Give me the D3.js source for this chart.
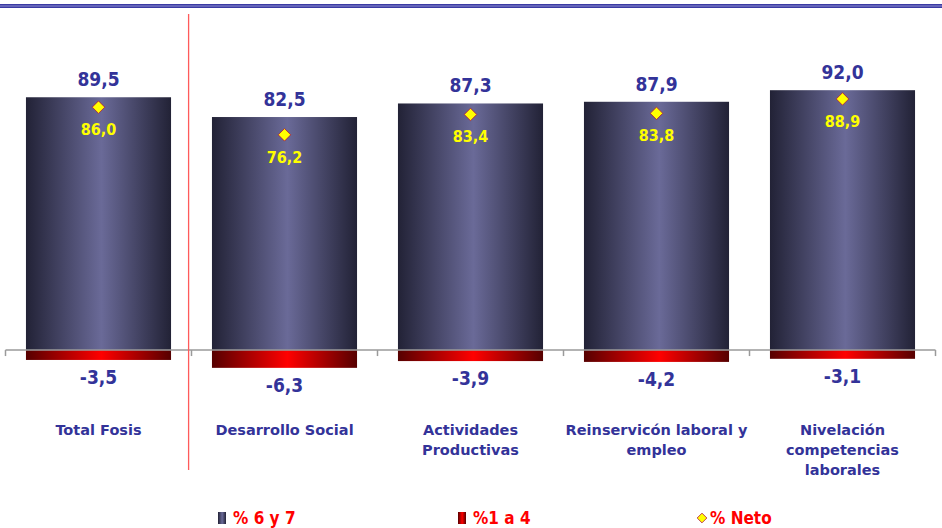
<!DOCTYPE html>
<html>
<head>
<meta charset="utf-8">
<script src="https://cdn.jsdelivr.net/npm/d3@7"></script>
<style>
  body { margin: 0; background: #fff; }
  svg { display: block; }
  .val { font-family: "DejaVu Sans Condensed", "DejaVu Sans", sans-serif; font-weight: bold; }
  .cat { font-family: "DejaVu Sans", sans-serif; font-weight: bold; }
</style>
</head>
<body>
<svg id="chart" width="942" height="528"></svg>
<script>
// Chart data
const categories = ["Total Fosis", "Desarrollo Social", "Actividades Productivas", "Reinservicón laboral y empleo", "Nivelación competencias laborales"];
const categoryLines = [["Total Fosis"], ["Desarrollo Social"], ["Actividades", "Productivas"], ["Reinservicón laboral y", "empleo"], ["Nivelación", "competencias", "laborales"]];
const pct67 = [89.5, 82.5, 87.3, 87.9, 92.0];
const pct14 = [-3.5, -6.3, -3.9, -4.2, -3.1];
const pctNeto = [86.0, 76.2, 83.4, 83.8, 88.9];
const legendLabels = ["% 6 y 7", "%1 a 4", "% Neto"];

// Spanish style numbers with a plain hyphen for negatives
const locale = d3.formatLocale({ decimal: ",", thousands: ".", grouping: [3], currency: ["", ""], minus: "-" });
const fmt = locale.format(".1f");

const svg = d3.select("#chart");

// Gradients for the bars
const defs = svg.append("defs");
function hGradient(id, edge, mid) {
  const g = defs.append("linearGradient").attr("id", id)
    .attr("x1", "0%").attr("x2", "100%").attr("y1", "0%").attr("y2", "0%");
  g.append("stop").attr("offset", "0%").attr("stop-color", edge);
  g.append("stop").attr("offset", "52%").attr("stop-color", mid);
  g.append("stop").attr("offset", "100%").attr("stop-color", edge);
}
hGradient("gBlue", "#222236", "#6a6a98");
hGradient("gRed", "#560000", "#ff0000");

// Scales
const x = d3.scaleBand()
  .domain(categories)
  .range([5.5, 935.5])
  .paddingInner(0.22)
  .paddingOuter(0.11);

const y = d3.scaleLinear()
  .domain([-10, 100])
  .range([378.3, 67.6]);

// Header rule
svg.append("rect").attr("x", 0).attr("y", 4).attr("width", 942).attr("height", 4).attr("fill", "#3b3ba3");
svg.append("line").attr("x1", 0).attr("x2", 942).attr("y1", 6).attr("y2", 6)
  .attr("stroke", "#8f8fd0").attr("stroke-width", 1);

// Positive bars
svg.selectAll(".bar-pos")
  .data(categories)
  .join("rect")
    .attr("class", "bar-pos")
    .attr("x", d => x(d))
    .attr("y", (d, i) => y(pct67[i]))
    .attr("width", x.bandwidth())
    .attr("height", (d, i) => y(0) - y(pct67[i]))
    .attr("fill", "url(#gBlue)");

// Negative bars
svg.selectAll(".bar-neg")
  .data(categories)
  .join("rect")
    .attr("class", "bar-neg")
    .attr("x", d => x(d))
    .attr("y", y(0))
    .attr("width", x.bandwidth())
    .attr("height", (d, i) => y(pct14[i]) - y(0))
    .attr("fill", "url(#gRed)");

// Category axis line with ticks at band edges
const axisG = svg.append("g");
axisG.append("line")
  .attr("x1", x.range()[0]).attr("x2", x.range()[1])
  .attr("y1", y(0)).attr("y2", y(0))
  .attr("stroke", "#9a9a9a").attr("stroke-width", 1.5);
const edges = categories.map(d => x(d) - x.step() * x.paddingInner() / 2);
edges[0] = x.range()[0];
edges.push(x.range()[1]);
axisG.selectAll(".tick")
  .data(edges)
  .join("line")
    .attr("x1", d => d).attr("x2", d => d)
    .attr("y1", y(0)).attr("y2", y(0) + 6)
    .attr("stroke", "#9a9a9a").attr("stroke-width", 1.5);

// Separator after Total Fosis
svg.append("line")
  .attr("x1", 188.6).attr("x2", 188.6)
  .attr("y1", 14).attr("y2", 470)
  .attr("stroke", "#ff5a5a").attr("stroke-width", 1.3);

// Labels above positive bars
svg.selectAll(".lbl-pos")
  .data(categories)
  .join("text")
    .attr("class", "val")
    .attr("x", d => x(d) + x.bandwidth() / 2)
    .attr("y", (d, i) => y(pct67[i]) - 11)
    .attr("text-anchor", "middle")
    .attr("font-size", 19)
    .attr("fill", "#333399")
    .text((d, i) => fmt(pct67[i]));

// Labels below negative bars
svg.selectAll(".lbl-neg")
  .data(categories)
  .join("text")
    .attr("class", "val")
    .attr("x", d => x(d) + x.bandwidth() / 2)
    .attr("y", (d, i) => y(pct14[i]) + 24)
    .attr("text-anchor", "middle")
    .attr("font-size", 19)
    .attr("fill", "#333399")
    .text((d, i) => fmt(pct14[i]));

// Net markers
const diamond = d3.symbol().type(d3.symbolDiamond2).size(100);
svg.selectAll(".neto")
  .data(categories)
  .join("path")
    .attr("transform", (d, i) => `translate(${x(d) + x.bandwidth() / 2},${y(pctNeto[i])})`)
    .attr("d", diamond)
    .attr("fill", "#ffff00")
    .attr("stroke", "#b0103a")
    .attr("stroke-width", 0.8);

svg.selectAll(".lbl-neto")
  .data(categories)
  .join("text")
    .attr("class", "val")
    .attr("x", d => x(d) + x.bandwidth() / 2)
    .attr("y", (d, i) => y(pctNeto[i]) + 28)
    .attr("text-anchor", "middle")
    .attr("font-size", 16)
    .attr("fill", "#ffff00")
    .text((d, i) => fmt(pctNeto[i]));

// Category names
svg.selectAll(".cat")
  .data(categories)
  .join("text")
    .attr("class", "cat")
    .attr("x", d => x(d) + x.bandwidth() / 2)
    .attr("y", 435)
    .attr("text-anchor", "middle")
    .attr("font-size", 14.5)
    .attr("fill", "#333399")
    .each(function(d, i) {
      d3.select(this).selectAll("tspan")
        .data(categoryLines[i])
        .join("tspan")
          .attr("x", x(d) + x.bandwidth() / 2)
          .attr("dy", (t, j) => j === 0 ? 0 : 20)
          .text(t => t);
    });

// Legend
const legendX = [218, 458, 697];
const legend = svg.append("g");
legend.append("rect").attr("x", legendX[0]).attr("y", 512).attr("width", 8).attr("height", 12).attr("fill", "url(#gBlue)");
legend.append("rect").attr("x", legendX[1]).attr("y", 512).attr("width", 8).attr("height", 12).attr("fill", "url(#gRed)");
legend.append("path")
  .attr("transform", `translate(${legendX[2] + 5},518)`)
  .attr("d", d3.symbol().type(d3.symbolDiamond2).size(60))
  .attr("fill", "#ffff00").attr("stroke", "#b0103a").attr("stroke-width", 0.8);
legend.selectAll(".leg-txt")
  .data(legendLabels)
  .join("text")
    .attr("x", (d, i) => legendX[i] + (i === 2 ? 13 : 15))
    .attr("y", 524)
    .attr("font-family", "'Liberation Sans Narrow', 'DejaVu Sans Condensed', sans-serif")
    .attr("font-weight", "bold")
    .attr("font-size", 17)
    .attr("fill", "#ff0000")
    .text(d => d);
</script>
</body>
</html>
